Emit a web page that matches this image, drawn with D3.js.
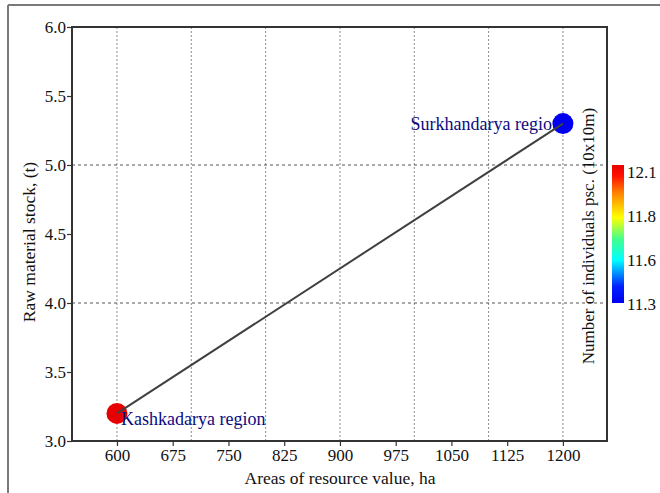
<!DOCTYPE html>
<html>
<head>
<meta charset="utf-8">
<script src="https://cdn.jsdelivr.net/npm/d3@7"></script>
<style>
  html, body { margin: 0; padding: 0; background: #fff; }
  svg { display: block; }
  svg text { font-family: "Liberation Serif", "Times New Roman", serif; }
</style>
</head>
<body>
<svg id="chart" width="660" height="493"></svg>
<script>
// Regions, their resource area (ha), raw material stock (t) and density
const regions = ["Kashkadarya region", "Surkhandarya region"];
const areas = [600, 1200];
const stock = [3.2, 5.3];
const density = [12.1, 11.3];

// Axis ticks and grid positions
const xTicks = [600, 675, 750, 825, 900, 975, 1050, 1125, 1200];
const xGrid = [600, 700, 800, 900, 1000, 1100, 1200];
const yTicks = [3.0, 3.5, 4.0, 4.5, 5.0, 5.5, 6.0];
const yGrid = [4.0, 5.0];
const colorTicks = ["12.1", "11.8", "11.6", "11.3"];

const svg = d3.select("#chart");
const m = { left: 72, right: 607, top: 27, bottom: 441 };
const serif = "'Liberation Serif', 'Times New Roman', serif";

// Page frame (top and left edges)
svg.append("line").attr("x1", 8).attr("x2", 660).attr("y1", 5).attr("y2", 5)
  .attr("stroke", "#7a7a7a").attr("stroke-width", 2);
svg.append("line").attr("x1", 8).attr("x2", 8).attr("y1", 5).attr("y2", 493)
  .attr("stroke", "#7a7a7a").attr("stroke-width", 2);

const x = d3.scaleLinear().domain([539.5, 1259.3]).range([m.left, m.right]);
const y = d3.scaleLinear().domain([3, 6]).range([m.bottom, m.top]);

// Grid
svg.append("g").selectAll("line").data(xGrid).join("line")
  .attr("x1", d => x(d)).attr("x2", d => x(d))
  .attr("y1", m.top).attr("y2", m.bottom)
  .attr("stroke", "#8a8a8a").attr("stroke-width", 1).attr("stroke-dasharray", "2,2");
svg.append("g").selectAll("line").data(yGrid).join("line")
  .attr("x1", m.left).attr("x2", m.right)
  .attr("y1", d => y(d)).attr("y2", d => y(d))
  .attr("stroke", "#555").attr("stroke-width", 1).attr("stroke-dasharray", "3,3");

// Axes
const xAxis = svg.append("g").attr("transform", `translate(0,${m.bottom})`)
  .call(d3.axisBottom(x).tickValues(xTicks).tickFormat(d3.format("d"))
    .tickSize(5).tickSizeOuter(0).tickPadding(3));
const yAxis = svg.append("g").attr("transform", `translate(${m.left},0)`)
  .call(d3.axisLeft(y).tickValues(yTicks).tickFormat(d3.format(".1f"))
    .tickSize(5).tickSizeOuter(0).tickPadding(1));
[xAxis, yAxis].forEach(a => {
  a.attr("font-family", serif).attr("font-size", 17);
  a.select(".domain").remove();
  a.selectAll(".tick line").attr("stroke", "#333").attr("stroke-width", 1.2);
  a.selectAll(".tick text").attr("fill", "#111");
});

// Plot box
svg.append("rect").attr("x", m.left).attr("y", m.top)
  .attr("width", m.right - m.left).attr("height", m.bottom - m.top)
  .attr("fill", "none").attr("stroke", "#333").attr("stroke-width", 2);

// Axis titles
svg.append("text").attr("x", 340).attr("y", 484)
  .attr("text-anchor", "middle").attr("font-size", 17.5).attr("fill", "#111")
  .text("Areas of resource value, ha");
svg.append("text").attr("transform", `translate(35,242) rotate(-90)`)
  .attr("text-anchor", "middle").attr("font-size", 17.5).attr("fill", "#111")
  .text("Raw material stock, (t)");
svg.append("text").attr("transform", `translate(594,236) rotate(-90)`)
  .attr("text-anchor", "middle").attr("font-size", 17).attr("fill", "#111")
  .text("Number of individuals psc. (10x10m)");

// Colour scale (jet-like) and colour bar
const jetStops = [
  [0.0, "#0000f0"], [0.12, "#0020ff"], [0.31, "#00ffff"],
  [0.46, "#40ff90"], [0.62, "#ffff00"], [0.8, "#ff8000"], [0.92, "#ff1000"], [1.0, "#e60000"]
];
const cDomain = d3.extent(density);
const jet = d3.scaleLinear().domain(jetStops.map(s => s[0])).range(jetStops.map(s => s[1]));
const color = v => jet((v - cDomain[0]) / (cDomain[1] - cDomain[0]));
const cb = { x: 612, w: 12, top: 165, bottom: 303 };
const grad = svg.append("defs").append("linearGradient").attr("id", "jet")
  .attr("x1", 0).attr("y1", 1).attr("x2", 0).attr("y2", 0);
grad.selectAll("stop").data(jetStops).join("stop")
  .attr("offset", d => d[0]).attr("stop-color", d => d[1]);
svg.append("rect").attr("x", cb.x).attr("y", cb.top).attr("width", cb.w)
  .attr("height", cb.bottom - cb.top).attr("fill", "url(#jet)");
const cLab = d3.scalePoint().domain(colorTicks).range([cb.top + 7, cb.bottom + 1]);
svg.append("g").selectAll("text").data(colorTicks).join("text")
  .attr("x", cb.x + cb.w + 3).attr("y", d => cLab(d)).attr("dy", "0.35em")
  .attr("font-size", 17).attr("fill", "#111").text(d => d);

// Points and labels
const pts = regions.map((r, i) => ({ name: r, x: areas[i], y: stock[i], c: density[i] }));
const labelLayer = svg.append("g");
const pointLayer = svg.append("g");
const topLabelLayer = svg.append("g");

pointLayer.selectAll("circle").data(pts).join("circle")
  .attr("cx", d => x(d.x)).attr("cy", d => y(d.y)).attr("r", 10.5)
  .attr("fill", d => color(d.c));

// Kashkadarya label sits to the right of its marker, Surkhandarya to the left
[["Kashkadarya region", topLabelLayer, "start", 4, 12],
 ["Surkhandarya region", labelLayer, "end", -2, 6]].forEach(([name, layer, anchor, dx, dy]) => {
  const p = pts.find(d => d.name === name);
  layer.append("text").attr("x", x(p.x) + dx).attr("y", y(p.y) + dy)
    .attr("text-anchor", anchor).attr("font-size", 18).attr("fill", "#0b0b80")
    .text(name);
});

// Connecting line
svg.append("path").datum(pts)
  .attr("d", d3.line().x(d => x(d.x)).y(d => y(d.y)))
  .attr("fill", "none").attr("stroke", "#404040").attr("stroke-width", 2);
</script>
</body>
</html>
